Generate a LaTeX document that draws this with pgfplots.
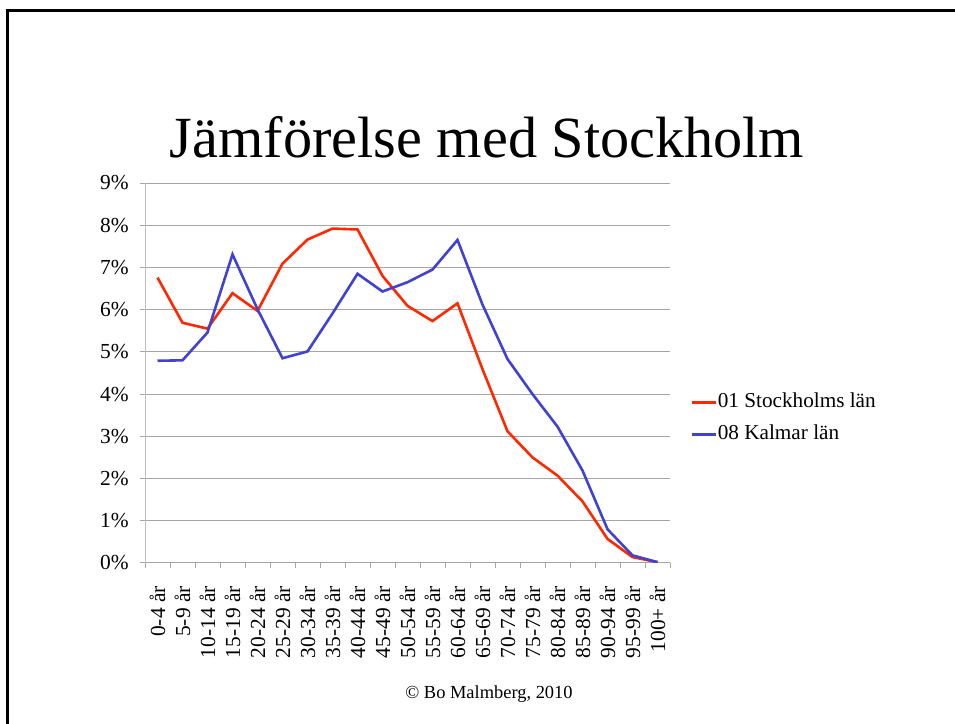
\documentclass[border=0pt]{standalone}
\usepackage{pgfplots}
\pgfplotsset{compat=1.18}
\usepackage{fontspec}
\setmainfont{Liberation Serif}
\definecolor{sred}{RGB}{255,40,0}
\definecolor{kblue}{RGB}{65,65,210}
\definecolor{gridc}{RGB}{165,165,165}
\definecolor{axc}{RGB}{190,190,190}
\begin{document}
\begin{tikzpicture}
\path[use as bounding box] (0,0) rectangle (955bp,724bp);
\fill[white] (0,0) rectangle (955bp,724bp);
\draw[line width=2.6bp,black] (7.5bp,0) -- (7.5bp,713.5bp) -- (956bp,713.5bp);
\node[anchor=base, inner sep=0pt, font=\fontsize{58.5}{58.5}\selectfont] at (487bp,566.7bp) {Jämförelse med Stockholm};
\node[anchor=base, inner sep=0pt, font=\fontsize{18.5}{18.5}\selectfont] at (489bp,26bp) {© Bo Malmberg, 2010};
\begin{axis}[
  scale only axis, width=525bp, height=380bp,
  at={(145bp,161bp)}, anchor=south west,
  xmin=-0.5, xmax=20.5, ymin=0, ymax=9,
  axis x line*=bottom, axis y line*=left,
  axis line style={axc, line width=1bp, -},
  x axis line style={gridc},
  xtick={0,...,20},
  xticklabels={0-4 år,5-9 år,10-14 år,15-19 år,20-24 år,25-29 år,30-34 år,35-39 år,40-44 år,45-49 år,50-54 år,55-59 år,60-64 år,65-69 år,70-74 år,75-79 år,80-84 år,85-89 år,90-94 år,95-99 år,100+ år},
  minor xtick={-0.5,0.5,...,20.5},
  tick align=outside,
  major tick length=5bp, minor tick length=5bp,
  x tick style={draw=none},
  minor x tick style={draw=gridc, line width=1bp},
  y tick style={draw=gridc, line width=1bp},
  ytick={0,...,9},
  yticklabels={0\%,1\%,2\%,3\%,4\%,5\%,6\%,7\%,8\%,9\%},
  ymajorgrids, major grid style={gridc, line width=1bp},
  xticklabel shift=18bp,
  yticklabel shift=11bp,
  xticklabel style={rotate=90, anchor=east, inner sep=0pt, font=\fontsize{21.5}{21.5}\selectfont},
  yticklabel style={anchor=east, inner sep=0pt, font=\fontsize{21.5}{21.5}\selectfont},
  legend cell align=left,
  legend image code/.code={\draw[#1] (0bp,0bp) -- (24bp,0bp);},
  legend style={at={(1,0.38)}, anchor=west, xshift=20bp, draw=none, fill=none,
    font=\fontsize{21.3}{21.3}\selectfont, inner sep=0pt, row sep=10bp,
    nodes={inner sep=1bp, text height=15bp, text depth=5bp}},
]
\addplot[sred, line width=2.6bp] coordinates {
(0,6.76) (1,5.69) (2,5.55) (3,6.39) (4,5.97) (5,7.09) (6,7.66) (7,7.92) (8,7.90) (9,6.80)
(10,6.09) (11,5.73) (12,6.15) (13,4.59) (14,3.12) (15,2.50) (16,2.07) (17,1.46) (18,0.57) (19,0.14) (20,0.02)};
\addlegendentry{01 Stockholms län}
\addplot[kblue, line width=2.6bp] coordinates {
(0,4.79) (1,4.80) (2,5.46) (3,7.31) (4,6.01) (5,4.85) (6,5.01) (7,5.91) (8,6.85) (9,6.43)
(10,6.65) (11,6.95) (12,7.65) (13,6.12) (14,4.83) (15,4.00) (16,3.23) (17,2.19) (18,0.80) (19,0.18) (20,0.02)};
\addlegendentry{08 Kalmar län}
\end{axis}
\end{tikzpicture}
\end{document}
